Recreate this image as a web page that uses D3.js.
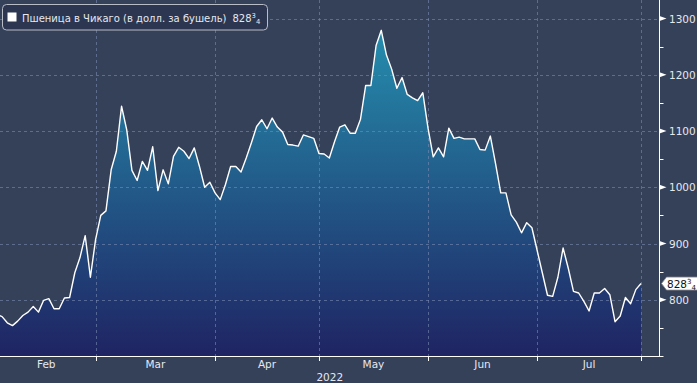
<!DOCTYPE html>
<html><head><meta charset="utf-8">
<script src="https://cdn.jsdelivr.net/npm/d3@7"></script>
<style>
html,body{margin:0;padding:0;background:#354059;overflow:hidden;}
svg{display:block;}
text{font-family:"DejaVu Sans",sans-serif;}
</style>
</head><body>
<svg id="c" width="697" height="383"></svg>
<script>
// ---------- data ----------
const seriesName = "Пшеница в Чикаго (в долл. за бушель)";
const lastWhole = "828", lastNum = "3", lastDen = "4";
const firstIndex = 1; // trading-day index of first value (Feb 1, 2022)
const prices = [
  774,770,759,754,762,772,778,788,778,799,
  802,784,784,803,804,848,875,914,840,907,
  950,958,1031,1064,1144,1102,1030,1012,1046,1030,
  1072,994,1031,1006,1055,1071,1064,1051,1070,1037,
  1000,1009,990,978,1005,1037,1037,1027,1052,1079,
  1108,1120,1104,1123,1107,1098,1076,1075,1073,1093,
  1090,1087,1060,1059,1052,1081,1107,1111,1096,1096,
  1121,1181,1181,1252,1279,1235,1210,1176,1195,1165,
  1159,1154,1168,1105,1054,1070,1054,1105,1087,1089,
  1086,1086,1086,1067,1066,1091,1042,990,990,951,
  938,919,937,928,888,848,808,806,840,892,
  856,815,812,797,780,812,812,820,809,761,
  771,804,793,818,828.75
];
const monthBoundaries = [1, 20, 43, 63, 84, 105, 125]; // trading-day index of month starts
const monthLabels = ["Feb","Mar","Apr","May","Jun","Jul"];
const yearLabel = "2022";
const yMajorTicks = [800, 900, 1000, 1100, 1200, 1300];
const yMinorTicks = [700, 750, 850, 950, 1050, 1150, 1250];

// ---------- layout ----------
const W = 697, H = 383;
const plotRight = 659.5, plotBottom = 356;
const svg = d3.select("#c");

const x = d3.scaleLinear().domain([1.6, 125]).range([0, 641]);
const y = d3.scaleLinear().domain([700, 1300]).range([plotBottom, 18.5]);

const data = prices.map((v, k) => ({i: firstIndex + k, v}));

svg.append("rect").attr("width", W).attr("height", H).attr("fill", "#354059");

const defs = svg.append("defs");
const grad = defs.append("linearGradient").attr("id", "g")
  .attr("gradientUnits", "userSpaceOnUse")
  .attr("x1", 0).attr("x2", 0).attr("y1", y(1300)).attr("y2", plotBottom);
grad.append("stop").attr("offset", "0%").attr("stop-color", "#2591b0");
grad.append("stop").attr("offset", "100%").attr("stop-color", "#1f2463");
defs.append("clipPath").attr("id", "clip").append("rect")
  .attr("x", 0).attr("y", 0).attr("width", plotRight).attr("height", plotBottom);

const plot = svg.append("g").attr("clip-path", "url(#clip)");

plot.append("path").datum(data)
  .attr("fill", "url(#g)")
  .attr("d", d3.area().x(d => x(d.i)).y0(plotBottom).y1(d => y(d.v)));

// gridlines
plot.append("g").selectAll("line").data(yMajorTicks).join("line")
  .attr("x1", 0).attr("x2", plotRight)
  .attr("y1", d => Math.round(y(d)) + 0.5).attr("y2", d => Math.round(y(d)) + 0.5)
  .attr("stroke", "#7a8bb0").attr("stroke-opacity", 0.6).attr("stroke-dasharray", "3,3");
plot.append("g").selectAll("line").data(monthBoundaries.slice(1)).join("line")
  .attr("x1", d => Math.round(x(d)) + 0.5).attr("x2", d => Math.round(x(d)) + 0.5)
  .attr("y1", 0).attr("y2", plotBottom)
  .attr("stroke", "#7a8bb0").attr("stroke-opacity", 0.6).attr("stroke-dasharray", "3,3");

plot.append("path").datum(data)
  .attr("fill", "none").attr("stroke", "#ffffff").attr("stroke-width", 1.4)
  .attr("stroke-linejoin", "round")
  .attr("d", d3.line().x(d => x(d.i)).y(d => y(d.v)));

// axes lines
svg.append("line").attr("x1", 0).attr("x2", plotRight).attr("y1", plotBottom + 0.5).attr("y2", plotBottom + 0.5)
  .attr("stroke", "#fff").attr("stroke-width", 1);
svg.append("line").attr("x1", plotRight).attr("x2", plotRight).attr("y1", 0).attr("y2", plotBottom + 1)
  .attr("stroke", "#fff").attr("stroke-width", 1);

// x ticks
svg.append("g").selectAll("line").data(monthBoundaries.slice(1)).join("line")
  .attr("x1", d => Math.round(x(d)) + 0.5).attr("x2", d => Math.round(x(d)) + 0.5)
  .attr("y1", plotBottom).attr("y2", plotBottom + 5)
  .attr("stroke", "#fff");
svg.append("g").selectAll("text").data(monthLabels).join("text")
  .attr("x", (d, k) => (x(monthBoundaries[k]) + x(monthBoundaries[k + 1])) / 2)
  .attr("y", 368).attr("text-anchor", "middle")
  .attr("font-size", 10.5).attr("fill", "#e6e8ee").text(d => d);
svg.append("text").attr("x", plotRight / 2).attr("y", 381).attr("text-anchor", "middle")
  .attr("font-size", 10.5).attr("fill", "#e6e8ee").text(yearLabel);

// y ticks
svg.append("g").selectAll("line").data(yMinorTicks).join("line")
  .attr("x1", plotRight).attr("x2", plotRight + 4)
  .attr("y1", d => Math.round(y(d)) + 0.5).attr("y2", d => Math.round(y(d)) + 0.5)
  .attr("stroke", "#fff");
svg.append("g").selectAll("path").data(yMajorTicks).join("path")
  .attr("d", d => { const yy = y(d); return `M${plotRight},${yy - 2.5}L${plotRight + 7},${yy}L${plotRight},${yy + 2.5}Z`; })
  .attr("fill", "#fff");
svg.append("g").selectAll("text").data(yMajorTicks).join("text")
  .attr("x", 669).attr("y", d => y(d) + 4)
  .attr("font-size", 10.5).attr("fill", "#e6e8ee").text(d => d);

// last value label
const ly = y(prices[prices.length - 1]);
svg.append("path")
  .attr("d", `M${plotRight + 2},${ly}L${plotRight + 7},${ly - 6.5}L${W + 2},${ly - 6.5}L${W + 2},${ly + 6.5}L${plotRight + 7},${ly + 6.5}Z`)
  .attr("fill", "#ffffff").attr("stroke", "#888").attr("stroke-width", 0.8);
const lt = svg.append("text").attr("x", 667).attr("y", ly + 4).attr("font-size", 10.5).attr("fill", "#111");
lt.append("tspan").text(lastWhole);
lt.append("tspan").attr("font-size", 7).attr("dy", -3.5).text(lastNum);
lt.append("tspan").attr("font-size", 7).attr("dy", 6).text(lastDen);

// legend
svg.append("rect").attr("x", 2.5).attr("y", 4.5).attr("width", 265).attr("height", 25.5).attr("rx", 4)
  .attr("fill", "#2c3650").attr("stroke", "#b8bcc6").attr("stroke-width", 1);
svg.append("rect").attr("x", 7.5).attr("y", 12.5).attr("width", 9).attr("height", 9).attr("fill", "#fff");
const lg = svg.append("text").attr("x", 22).attr("y", 21.5).attr("font-size", 10).attr("fill", "#e6e8ee");
lg.append("tspan").text(seriesName);
lg.append("tspan").attr("dx", 6).text(lastWhole);
lg.append("tspan").attr("font-size", 6.8).attr("dy", -3.5).text(lastNum);
lg.append("tspan").attr("font-size", 6.8).attr("dy", 6).text(lastDen);
</script>
</body></html>
